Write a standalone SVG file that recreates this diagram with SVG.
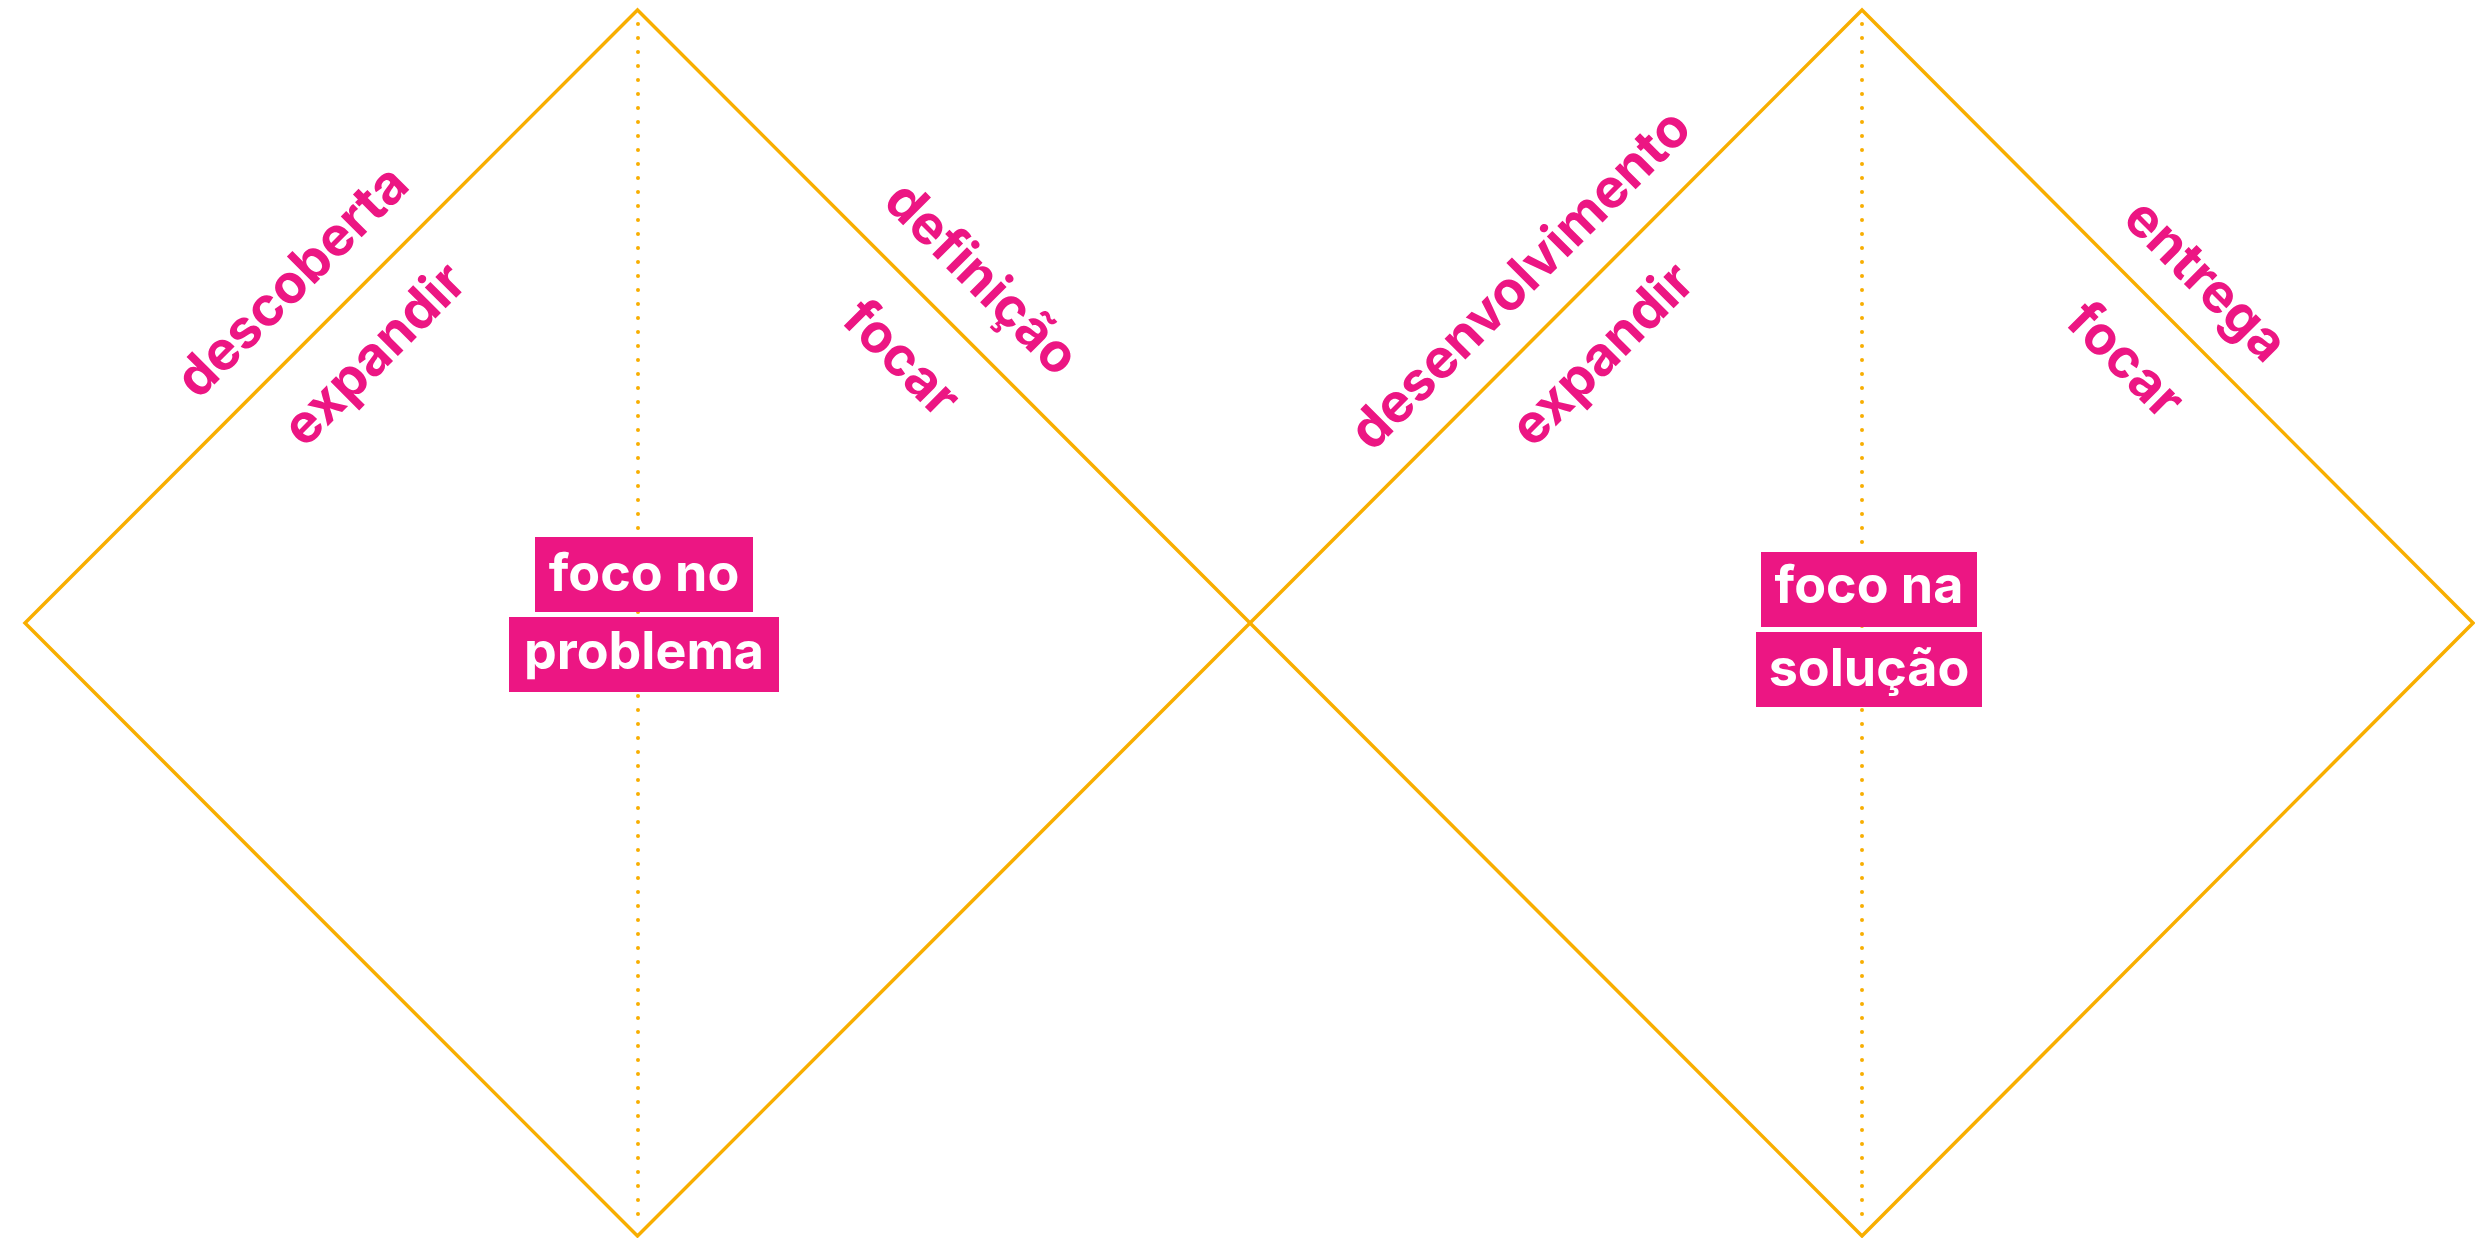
<svg xmlns="http://www.w3.org/2000/svg" width="2475" height="1238" viewBox="0 0 2475 1238">
<style>
.edge{fill:none;stroke:#F8AE00;stroke-width:3.5;stroke-linejoin:miter}
.axis{fill:none;stroke:#F8AE00;stroke-width:4;stroke-linecap:round;stroke-dasharray:0 14}
.lbl{font-family:Inter,"Liberation Sans",sans-serif;font-weight:700;font-size:54px;fill:#EC1683;text-anchor:middle}
.box{fill:#EC1683}
.btxt{font-family:Inter,"Liberation Sans",sans-serif;font-weight:700;font-size:52px;fill:#FFFFFF;text-anchor:middle}
</style>
<rect width="2475" height="1238" fill="#FFFFFF"/>
<g id="connectors">
<line class="axis" x1="638" y1="24" x2="638" y2="1228"/>
<line class="axis" x1="1862" y1="24" x2="1862" y2="1228"/>
</g>
<g id="diamond-problema">
<polygon class="edge" points="25,623 637.5,10 1250,623 637.5,1236"/>
</g>
<g id="diamond-solucao">
<polygon class="edge" points="1250,623 1862,10 2473,623 1862,1236"/>
</g>
<g id="label-descoberta"><text class="lbl" transform="translate(305,294) rotate(-45)">descoberta</text></g>
<g id="label-expandir-1"><text class="lbl" transform="translate(387,367) rotate(-45)">expandir</text></g>
<g id="label-definicao"><text class="lbl" transform="translate(969,291) rotate(45)">definição</text></g>
<g id="label-focar-1"><text class="lbl" transform="translate(889,371) rotate(45)">focar</text></g>
<g id="label-desenvolvimento"><text class="lbl" transform="translate(1533,292) rotate(-45)">desenvolvimento</text></g>
<g id="label-expandir-2"><text class="lbl" transform="translate(1615,367) rotate(-45)">expandir</text></g>
<g id="label-entrega"><text class="lbl" transform="translate(2193,293) rotate(45)">entrega</text></g>
<g id="label-focar-2"><text class="lbl" transform="translate(2113,373) rotate(45)">focar</text></g>
<g id="node-foco-problema">
<rect class="box" x="535" y="537" width="218" height="75"/>
<text class="btxt" x="644" y="591">foco no</text>
<rect class="box" x="509" y="617" width="270" height="75"/>
<text class="btxt" x="644" y="669">problema</text>
</g>
<g id="node-foco-solucao">
<rect class="box" x="1761" y="552" width="216" height="75"/>
<text class="btxt" x="1869" y="603">foco na</text>
<rect class="box" x="1756" y="632" width="226" height="75"/>
<text class="btxt" x="1869" y="686">solução</text>
</g>
</svg>
